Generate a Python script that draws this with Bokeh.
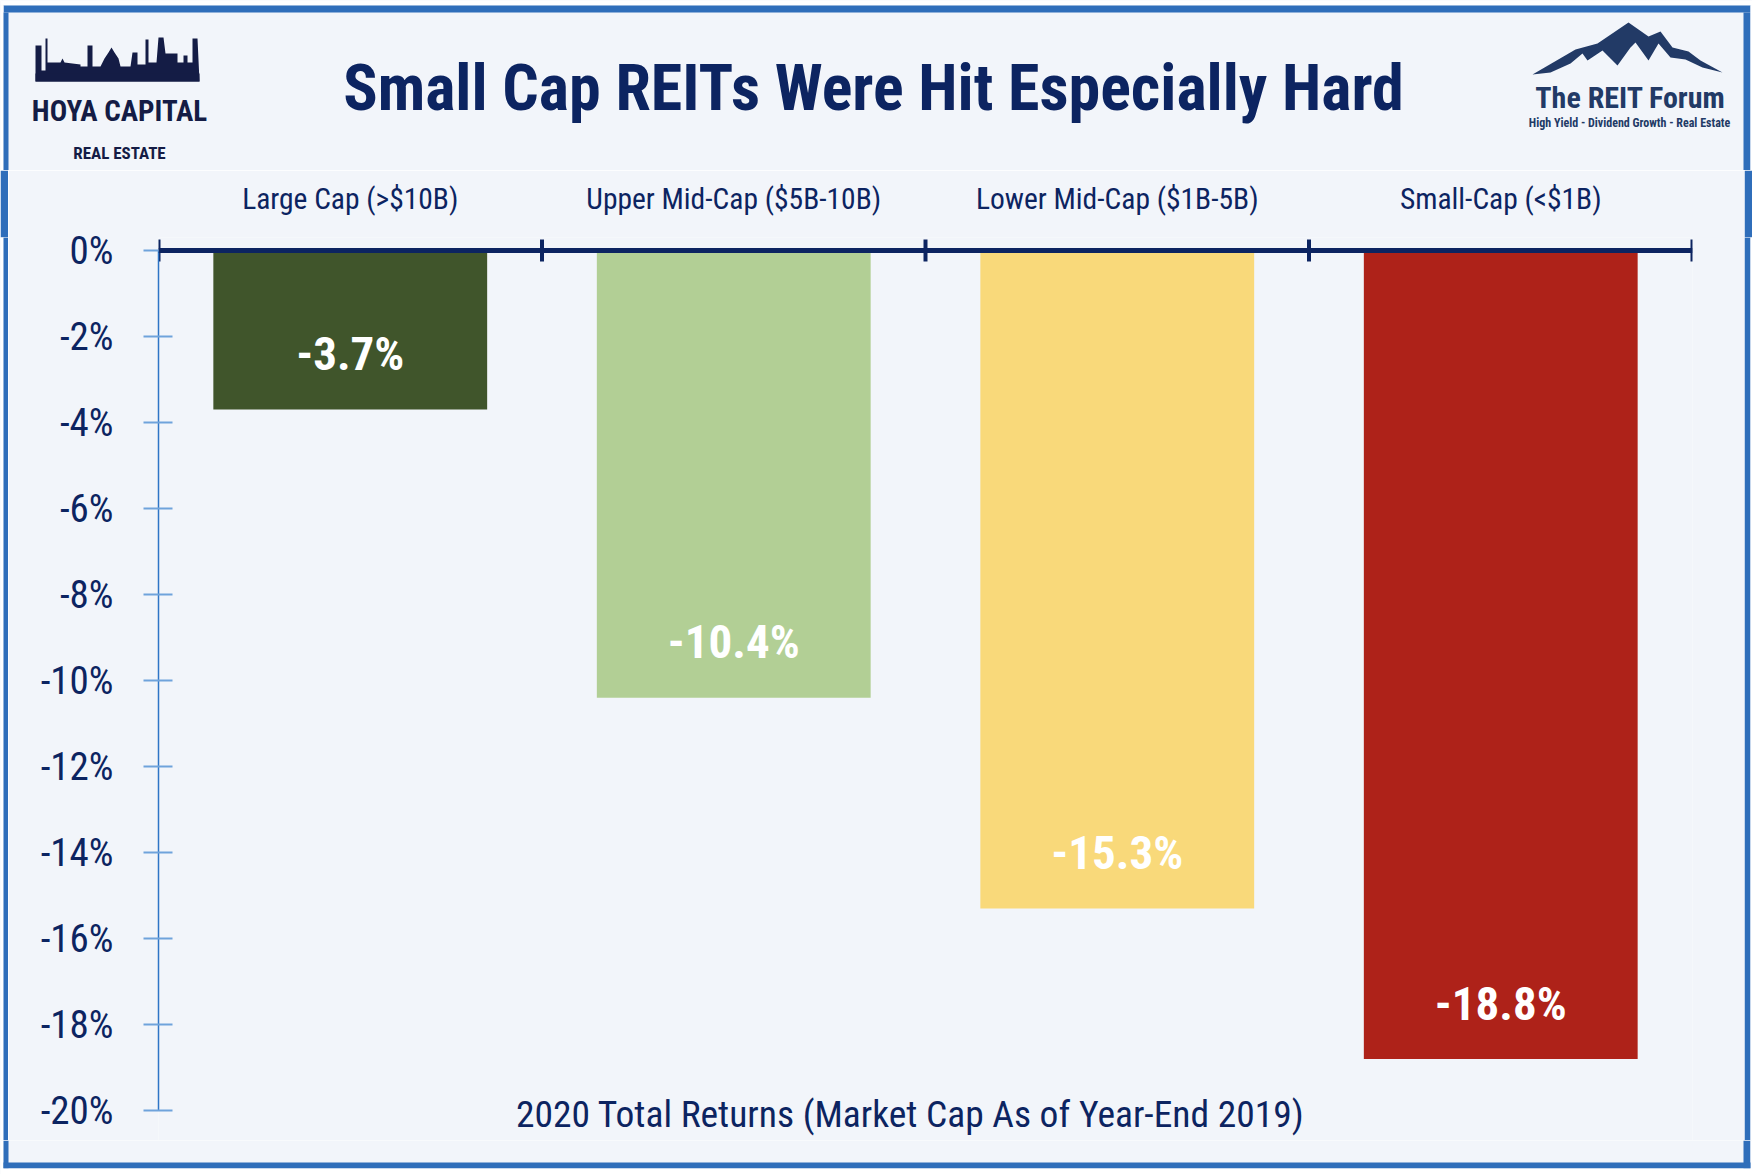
from bokeh.plotting import figure
from bokeh.layouts import column, row
from bokeh.models import (ColumnDataSource, Range1d, FactorRange, CategoricalAxis, LinearAxis,
                          FixedTicker, PrintfTickFormatter, Span)
from bokeh.transform import dodge
from bokeh.core.properties import value
from bokeh.embed import file_html
from bokeh.resources import INLINE

# ---------------- data ----------------
categories = ["Large Cap (>$10B)", "Upper Mid-Cap ($5B-10B)", "Lower Mid-Cap ($1B-5B)", "Small-Cap (<$1B)"]
returns_2020 = [-3.7, -10.4, -15.3, -18.8]
bar_labels = ["-3.7%", "-10.4%", "-15.3%", "-18.8%"]
bar_colors = ["#40552B", "#B2CF95", "#F9D97A", "#AE2219"]
y_ticks = [0, -2, -4, -6, -8, -10, -12, -14, -16, -18, -20]
title_text = "Small Cap REITs Were Hit Especially Hard"
x_title_text = "2020 Total Returns (Market Cap As of Year-End 2019)"

# ---------------- style ----------------
NAVY = "#0C2461"
LOGO_NAVY = "#141C45"
FORUM = "#223A66"
BG = "#F2F5FA"
BORDER = "#2F6EBA"
WHITE = "#FFFFFF"
FONT = "Roboto Condensed, Roboto"

WIN_W, WIN_H = 1752, 1174
HDR_H = 170
FTR_H = 34
MAIN_H = WIN_H - HDR_H - FTR_H      # 970
STRIP_W = 8
MAIN_W = WIN_W - 2 * STRIP_W        # 1736
PX_PER_PCT = 43.0


def blank(width, height, xr, yr, border_fill=BG):
    f = figure(width=width, height=height, x_range=xr, y_range=yr, title=None,
               output_backend="svg", toolbar_location=None,
               x_axis_location=None, y_axis_location=None, min_border=0)
    f.background_fill_color = BG
    f.border_fill_color = border_fill
    f.outline_line_color = None
    for g in f.grid:
        g.visible = False
    return f


def pieces(fig, rects):
    for (l, r, t, b, c) in rects:
        fig.quad(left=l, right=r, top=t, bottom=b, fill_color=c, line_color=None)


# ---------------- header (title + logos) ----------------
hdr = blank(WIN_W, HDR_H, Range1d(0, WIN_W), Range1d(HDR_H, 0))
pieces(hdr, [(0, WIN_W, 0, 5, WHITE), (3, 1750, 5, 12, BORDER),
             (0, 3, 5, HDR_H, WHITE), (3, 8, 12, HDR_H, BORDER),
             (1743, 1750, 12, HDR_H, BORDER), (1750, WIN_W, 5, HDR_H, WHITE)])

hdr.text(x=[873], y=[88], text=[title_text], text_color=NAVY, text_font=value(FONT),
         text_font_style="bold", text_font_size="64px", text_align="center", text_baseline="middle")

skyline_x = [35, 35, 41, 41, 45, 45, 47, 47, 60, 62, 64, 80, 80, 87, 87, 92, 92, 100, 104, 108, 111,
             114, 118, 120, 130, 132, 137, 137, 145, 145, 148, 148, 156, 158, 163, 165, 177, 177, 183,
             183, 187, 187, 192, 192, 197, 199]
skyline_y = [81, 45, 45, 70, 70, 38, 38, 62, 62, 58, 62, 64, 66, 66, 45, 45, 66, 66, 58, 52, 47,
             52, 58, 66, 66, 52, 52, 64, 64, 39, 39, 62, 62, 37, 37, 53, 53, 62, 62,
             55, 55, 62, 62, 38, 38, 81]
hdr.patch(skyline_x, skyline_y, fill_color=LOGO_NAVY, line_color=None)
hdr.quad(left=[35], right=[199], top=[73], bottom=[81], fill_color=LOGO_NAVY, line_color=None)
hdr.text(x=[119], y=[110], text=["HOYA CAPITAL"], text_color=LOGO_NAVY, text_font=value(FONT),
         text_font_style="bold", text_font_size="29px", text_align="center", text_baseline="middle")
hdr.text(x=[119], y=[152], text=["REAL ESTATE"], text_color=LOGO_NAVY, text_font=value(FONT),
         text_font_style="bold", text_font_size="17px", text_align="center", text_baseline="middle")

mountain_x = [1532, 1575, 1597, 1628, 1648, 1660, 1672, 1688, 1700, 1722, 1702, 1685, 1670,
              1658, 1648, 1635, 1630, 1617, 1602, 1587, 1582, 1570, 1550]
mountain_y = [74, 49, 43, 22, 36, 31, 47, 51, 60, 72, 67, 59, 57,
              43, 60, 42, 47, 65, 50, 60, 53, 63, 72]
hdr.patch(mountain_x, mountain_y, fill_color=FORUM, line_color=None)
hdr.text(x=[1630], y=[97], text=["The REIT Forum"], text_color=FORUM, text_font=value(FONT),
         text_font_style="bold", text_font_size="30px", text_align="center", text_baseline="middle")
hdr.text(x=[1629], y=[122], text=["High Yield - Dividend Growth - Real Estate"], text_color=FORUM,
         text_font=value(FONT), text_font_style="bold", text_font_size="12px",
         text_align="center", text_baseline="middle")

# ---------------- side strips of the frame border ----------------
lstrip = blank(STRIP_W, MAIN_H, Range1d(0, STRIP_W), Range1d(0, MAIN_H), border_fill=BORDER)
pieces(lstrip, [(0, 3, MAIN_H, 0, WHITE), (3, 8, MAIN_H, 0, BORDER)])
rstrip = blank(STRIP_W, MAIN_H, Range1d(1744, 1752), Range1d(0, MAIN_H), border_fill=BORDER)
pieces(rstrip, [(1744, 1750, MAIN_H, 0, BORDER), (1750, 1752, MAIN_H, 0, WHITE)])

# ---------------- footer ----------------
ftr = blank(WIN_W, FTR_H, Range1d(0, WIN_W), Range1d(WIN_H, WIN_H - FTR_H))
pieces(ftr, [(0, 3, 1140, WIN_H, WHITE), (3, 8, 1140, 1168, BORDER),
             (1743, 1750, 1140, 1168, BORDER), (1750, WIN_W, 1140, WIN_H, WHITE),
             (3, 1750, 1162, 1168, BORDER), (0, WIN_W, 1168, WIN_H, WHITE)])

# ---------------- main chart ----------------
FRAME_TOP = 237          # window y of frame top
FRAME_BOTTOM = 1140      # window y of frame bottom
ZERO_Y = 250             # window y of the 0% line
y_top = (ZERO_Y - FRAME_TOP) / PX_PER_PCT
y_bottom = -(FRAME_BOTTOM - ZERO_Y) / PX_PER_PCT

p = figure(width=MAIN_W, height=MAIN_H, title=None,
           x_range=FactorRange(*categories, range_padding=0),
           y_range=Range1d(y_bottom, y_top),
           output_backend="svg", toolbar_location=None,
           x_axis_location=None, y_axis_location=None,
           min_border_left=150, min_border_right=52,
           min_border_top=FRAME_TOP - HDR_H, min_border_bottom=0)
p.background_fill_color = BG
p.border_fill_color = BG
p.outline_line_color = None
for g in p.grid:
    g.visible = False

top_axis = CategoricalAxis(axis_line_color=None, major_tick_line_color=None,
                           minor_tick_line_color=None, major_tick_in=0, major_tick_out=0,
                           major_label_standoff=22,
                           major_label_text_font=FONT, major_label_text_font_size="29.5px",
                           major_label_text_color=NAVY)
p.add_layout(top_axis, "above")

left_axis = LinearAxis(ticker=FixedTicker(ticks=y_ticks),
                       formatter=PrintfTickFormatter(format="%d%%"),
                       bounds=(-20, 0),
                       axis_line_color="#2E75C6", axis_line_width=1.5,
                       major_tick_line_color="#6FA3DB", major_tick_line_width=2,
                       major_tick_out=15, major_tick_in=14,
                       minor_tick_line_color=None,
                       major_label_standoff=30,
                       major_label_text_font=FONT, major_label_text_font_size="39px",
                       major_label_text_color=NAVY)
p.add_layout(left_axis, "left")

src = ColumnDataSource(dict(cat=categories, val=returns_2020, lab=bar_labels, color=bar_colors,
                            lab_y=[v + 1.3 for v in returns_2020]))

p.vbar(x="cat", top=0, bottom="val", width=0.714, fill_color="color", line_color=None, source=src)

p.text(x="cat", y="lab_y", text="lab", source=src, text_color="white",
       text_font=value(FONT), text_font_style="bold", text_font_size="47px",
       text_align="center", text_baseline="middle")

# category axis line at 0 with ticks on the band boundaries
p.add_layout(Span(location=0, dimension="width", line_color=NAVY, line_width=5))
tick_half = 11 / PX_PER_PCT
p.segment(x0=dodge("cat", -0.5, range=p.x_range), x1=dodge("cat", -0.5, range=p.x_range),
          y0=tick_half, y1=-tick_half, source=src, line_color=NAVY, line_width=4)
last = ColumnDataSource(dict(cat=[categories[-1]]))
p.segment(x0=dodge("cat", 0.5, range=p.x_range), x1=dodge("cat", 0.5, range=p.x_range),
          y0=tick_half, y1=-tick_half, source=last, line_color=NAVY, line_width=4)

# bottom caption
cap_src = ColumnDataSource(dict(cat=[categories[1]], txt=[x_title_text]))
p.text(x=dodge("cat", 0.46, range=p.x_range), y=-20 - 3 / PX_PER_PCT, text="txt", source=cap_src,
       text_color=NAVY, text_font=value(FONT), text_font_size="37.5px",
       text_align="center", text_baseline="middle")

layout = column(hdr, row(lstrip, p, rstrip), ftr)

open("out.html", "w").write(file_html(layout, INLINE))
